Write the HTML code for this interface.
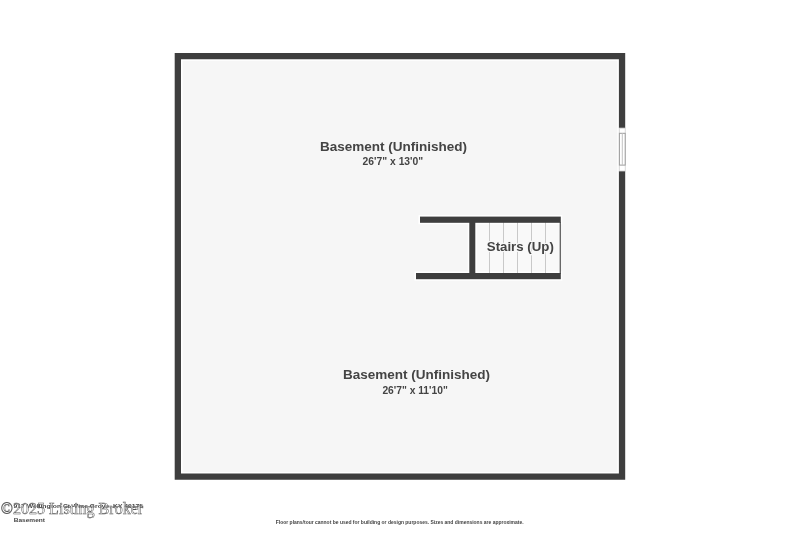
<!DOCTYPE html>
<html lang="en">
<head>
<meta charset="utf-8">
<title>Basement Floor Plan</title>
<style>
html,body{margin:0;padding:0;background:#fff;}
body{width:800px;height:533px;overflow:hidden;position:relative;font-family:"Liberation Sans",sans-serif;}
svg{position:absolute;left:0;top:0;display:block;transform:translateZ(0);will-change:transform;}
.lbl{font-family:"Liberation Sans",sans-serif;font-weight:bold;fill:#444;}
.wm{font-family:"Liberation Serif",serif;fill:#fff;fill-opacity:0.55;stroke:#555;stroke-width:0.5px;}
</style>
</head>
<body>
<svg width="800" height="533" viewBox="0 0 800 533">
  <rect x="0" y="0" width="800" height="533" fill="#ffffff"/>
  <!-- floor -->
  <rect x="178" y="56" width="444" height="421" fill="#f6f6f6"/>
  <!-- stairs treads -->
  <rect x="475" y="222" width="85.5" height="52" fill="#f9f9f9"/>
  <!-- white halo under walls -->
  <g fill="#ffffff" stroke="#ffffff" stroke-width="3" stroke-linejoin="miter">
    <path fill-rule="evenodd" d="M174.7 53H625.2V479.8H174.7Z M181 59.3V473.5H618.9V59.3Z"/>
    <rect x="420" y="216.6" width="140.8" height="6.2"/>
    <rect x="416" y="273" width="144.8" height="6.2"/>
    <rect x="469.3" y="222" width="6" height="52"/>
  </g>
  <g stroke="#c9c9c9" stroke-width="1">
    <line x1="489.5" y1="222" x2="489.5" y2="274"/>
    <line x1="503.5" y1="222" x2="503.5" y2="274"/>
    <line x1="517.5" y1="222" x2="517.5" y2="274"/>
    <line x1="531.5" y1="222" x2="531.5" y2="274"/>
    <line x1="545.5" y1="222" x2="545.5" y2="274"/>
  </g>
  <!-- walls -->
  <g fill="#3e3e3e">
    <path fill-rule="evenodd" d="M174.7 53H625.2V479.8H174.7Z M181 59.3V473.5H618.9V59.3Z"/>
    <rect x="420" y="216.6" width="140.8" height="6.2"/>
    <rect x="416" y="273" width="144.8" height="6.2"/>
    <rect x="469.3" y="222" width="6" height="52"/>
    <rect x="559.7" y="222" width="1.1" height="52" fill="#444"/>
  </g>
  <!-- window -->
  <rect x="618.4" y="128.1" width="7.3" height="42.9" fill="#ffffff"/>
  <rect x="619.4" y="128.1" width="5.8" height="42.9" fill="none" stroke="#d4d4d4" stroke-width="0.8"/>
  <rect x="619.4" y="133.3" width="5.8" height="31.8" fill="#ffffff" stroke="#9c9c9c" stroke-width="1"/>
  <line x1="622.3" y1="133.3" x2="622.3" y2="165.1" stroke="#c2c2c2" stroke-width="1"/>
  <!-- labels -->
  <text class="lbl" x="319.9" y="150.7" font-size="13.3" textLength="147.2" lengthAdjust="spacingAndGlyphs">Basement (Unfinished)</text>
  <text class="lbl" x="362.6" y="164.9" font-size="10.6" textLength="60.6" lengthAdjust="spacingAndGlyphs">26'7" x 13'0"</text>
  <text class="lbl" x="342.9" y="379.1" font-size="13.3" textLength="147.2" lengthAdjust="spacingAndGlyphs">Basement (Unfinished)</text>
  <text class="lbl" x="382.4" y="393.5" font-size="10.6" textLength="65.4" lengthAdjust="spacingAndGlyphs">26'7" x 11'10"</text>
  <text class="lbl" x="486.8" y="251.3" font-size="13.3" style="paint-order:stroke;stroke:#f8f8f8;stroke-width:2.6px;stroke-linejoin:round" textLength="67" lengthAdjust="spacingAndGlyphs">Stairs (Up)</text>
  <!-- footer -->
  <text class="lbl" x="13.6" y="507.7" font-size="6.1" textLength="129.4" lengthAdjust="spacingAndGlyphs">917 Wellington Ct, Vine Grove, KY 40175</text>
  <text class="wm" x="0.8" y="513.6" font-size="16.3" textLength="142.4" lengthAdjust="spacingAndGlyphs">©2025 Listing Broker</text>
  <text class="lbl" x="13.7" y="522.3" font-size="6.1" textLength="31.3" lengthAdjust="spacingAndGlyphs">Basement</text>
  <text class="lbl" x="275.8" y="524" font-size="5.2" textLength="247.8" lengthAdjust="spacingAndGlyphs">Floor plans/tour cannot be used for building or design purposes. Sizes and dimensions are approximate.</text>
</svg>
</body>
</html>
